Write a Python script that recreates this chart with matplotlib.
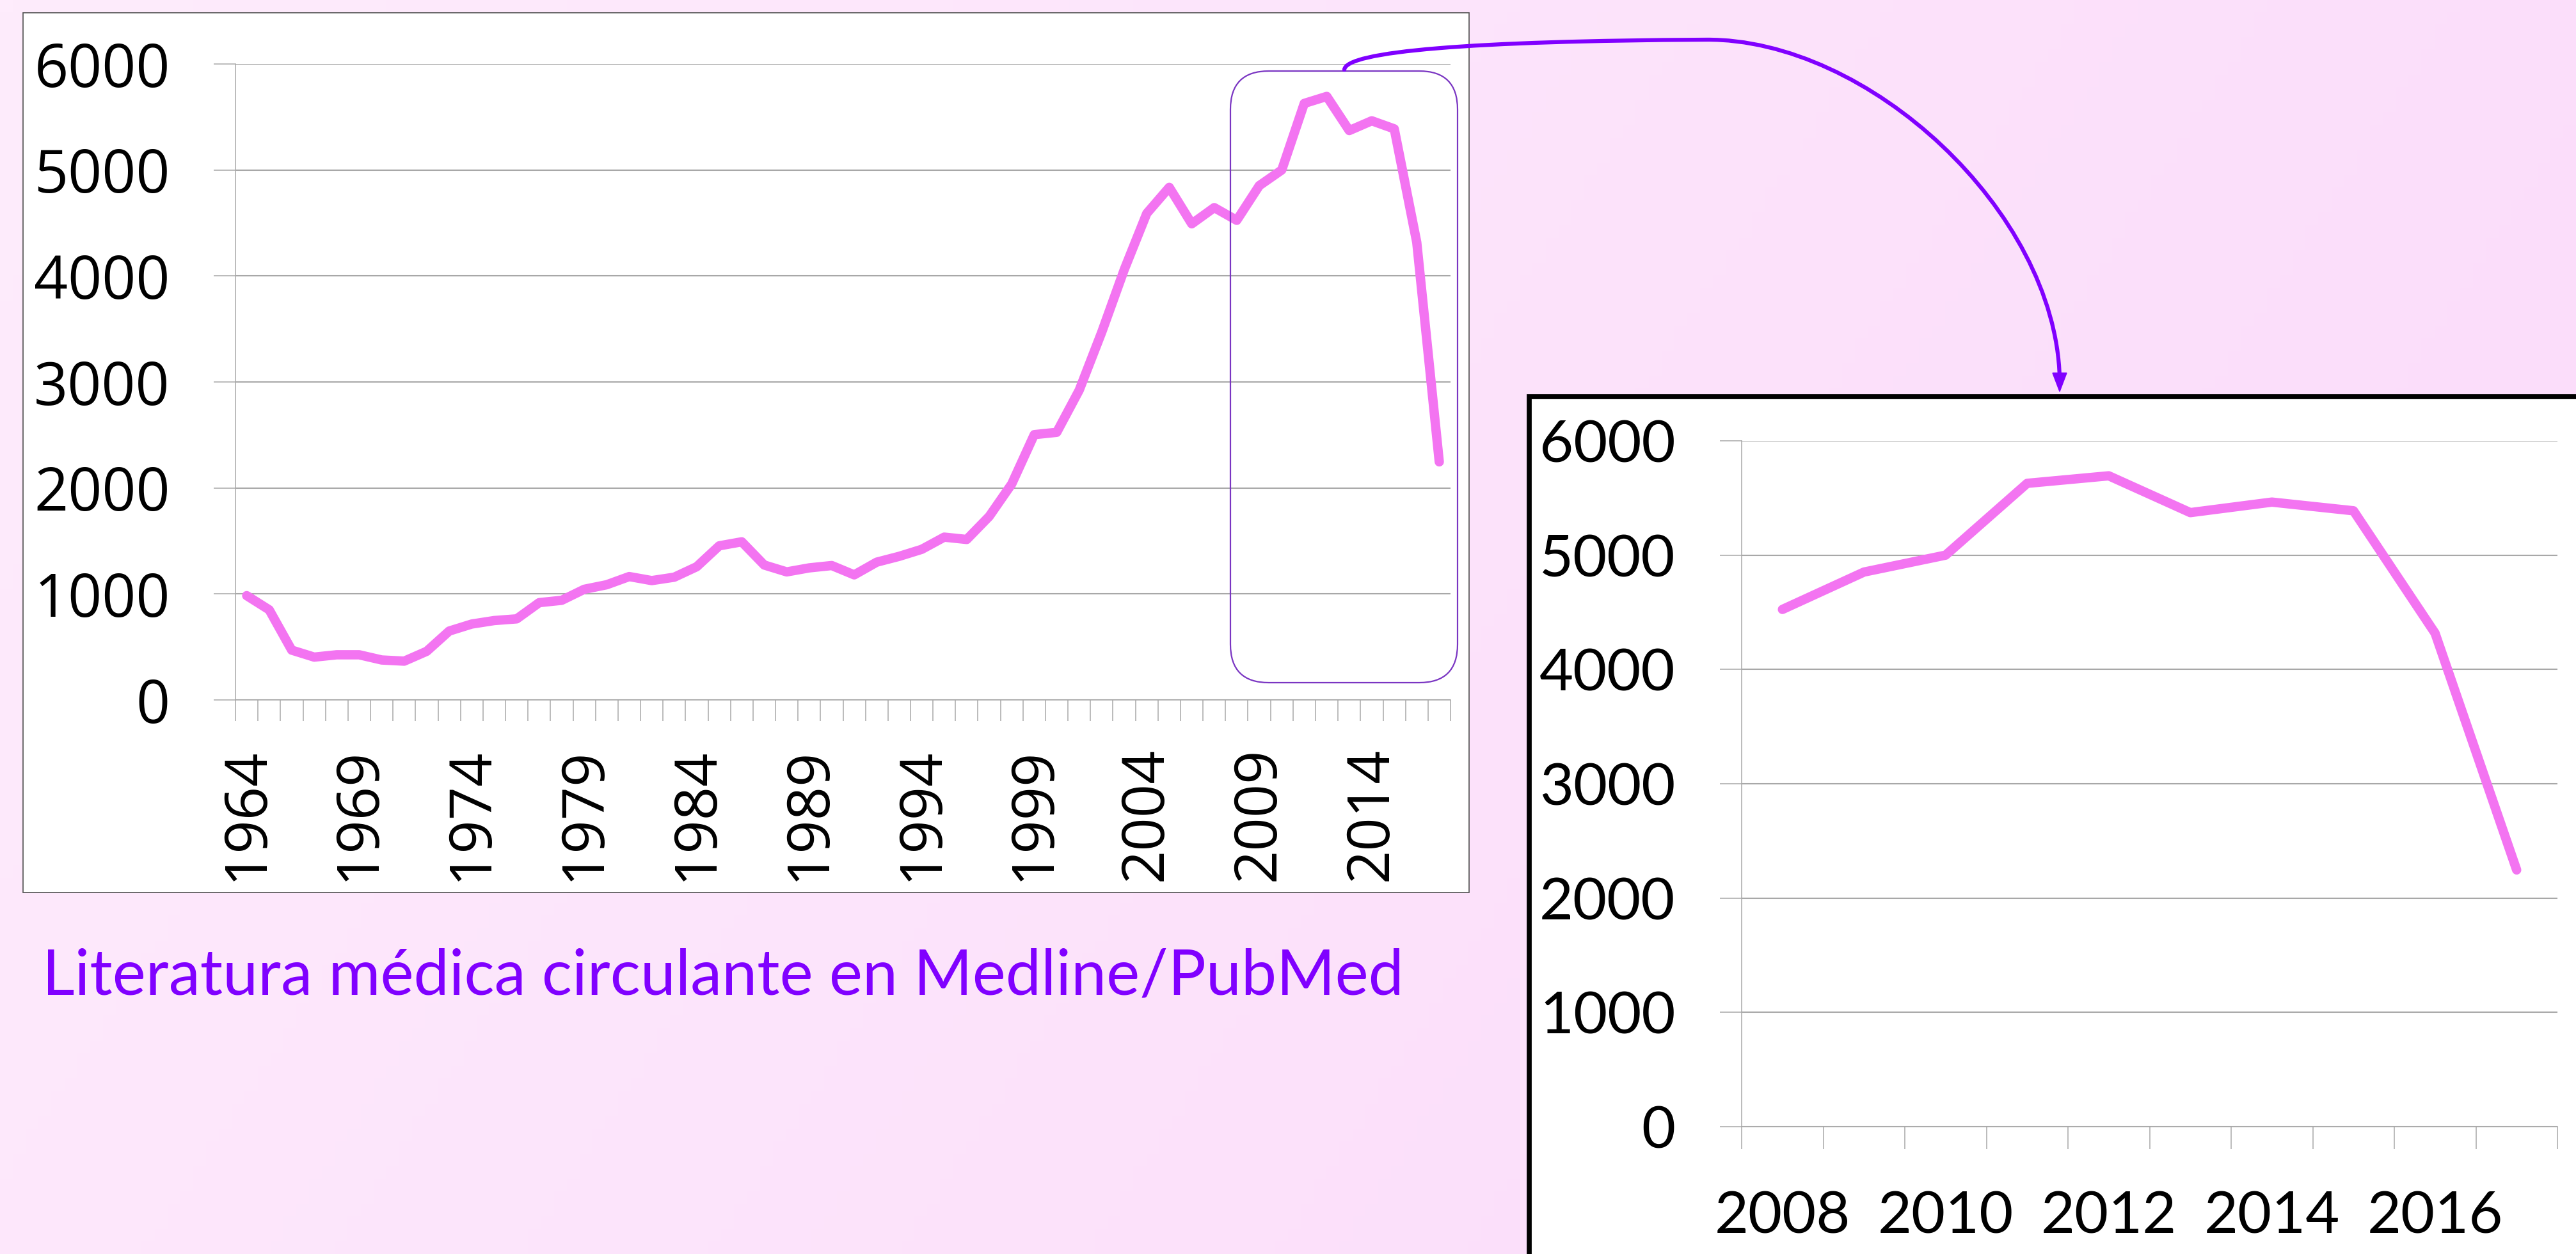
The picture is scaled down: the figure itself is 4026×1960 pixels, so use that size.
import matplotlib
matplotlib.use("Agg")
import matplotlib.pyplot as plt
import numpy as np
from matplotlib.patches import Rectangle, FancyBboxPatch, Polygon, PathPatch
from matplotlib.path import Path

# --- data ---
years = list(range(1964, 2018))
articles = [984, 850, 470, 404, 426, 426, 377, 366, 459, 650,
            716, 749, 765, 918, 940, 1044, 1087, 1164, 1126, 1158,
            1257, 1454, 1492, 1273, 1208, 1246, 1268, 1180, 1300, 1355,
            1421, 1536, 1514, 1732, 2038, 2503, 2525, 2923, 3470, 4060,
            4590, 4836, 4492, 4645, 4525, 4852, 5000, 5628, 5694, 5372,
            5464, 5388, 4317, 2246]
zoom_years = years[44:]      # 2008-2017
zoom_articles = articles[44:]
y_ticks = [0, 1000, 2000, 3000, 4000, 5000, 6000]
title = "Literatura médica circulante en Medline/PubMed"

W, H = 4026, 1960
line_c = "#F374F1"
grid_c = "#A8A8A8"
purple = "#8000FF"


def fig_rect(x0, y0, x1, y1):
    # pixel box (y down) -> figure fraction
    return [x0 / W, 1 - y1 / H, (x1 - x0) / W, (y1 - y0) / H]


fig = plt.figure(figsize=(W / 100, H / 100), dpi=100)

# background gradient + white chart frames
bg = fig.add_axes([0, 0, 1, 1], zorder=0)
gx, gy = np.meshgrid(np.linspace(0, 1, 200), np.linspace(0, 1, 100))
t = np.clip(0.8 * gx + 0.25 * gy, 0, 1)[..., None]
c0 = np.array([254, 236, 252]) / 255
c1 = np.array([251, 219, 250]) / 255
bg.imshow(c0 + (c1 - c0) * t, extent=(0, W, H, 0), aspect="auto")
bg.set_xlim(0, W)
bg.set_ylim(H, 0)
bg.axis("off")
bg.add_patch(Rectangle((36, 20), 2260, 1375, facecolor="white",
                       edgecolor="#505050", lw=1.2))
bg.add_patch(Rectangle((2390, 620), 1800, 1500, facecolor="white",
                       edgecolor="black", lw=5.6))

# --- main chart ---
ax = fig.add_axes(fig_rect(368, 100, 2267, 1094), zorder=1)
ax.set_facecolor("none")
x = np.arange(len(years))
ax.plot(x, articles, color=line_c, lw=10.5, solid_joinstyle="round",
        solid_capstyle="round")
ax.set_xlim(-0.5, len(years) - 0.5)
ax.set_ylim(0, 6000)
ax.set_yticks(y_ticks)
ax.yaxis.grid(True, color=grid_c, lw=1.5)
ax.set_axisbelow(True)
ax.set_xticks(x[::5], [str(y) for y in years[::5]], rotation=90)
ax.set_xticks(np.arange(-0.5, len(years), 1), minor=True)
ax.tick_params(axis="y", length=24.5, width=1.1, color=grid_c, pad=49,
               labelsize=67)
ax.tick_params(axis="x", which="major", length=0, pad=53, labelsize=66)
ax.tick_params(axis="x", which="minor", length=24, width=1.1, color=grid_c)
for lab in ax.get_xticklabels() + ax.get_yticklabels():
    lab.set_family("Open Sans")
for s in ["top", "right"]:
    ax.spines[s].set_visible(False)
for s in ["left", "bottom"]:
    ax.spines[s].set_color(grid_c)
    ax.spines[s].set_linewidth(1.1)

# --- zoomed chart ---
az = fig.add_axes(fig_rect(2722, 689, 3997, 1761), zorder=1)
az.set_facecolor("none")
xz = np.arange(len(zoom_years))
az.plot(xz, zoom_articles, color=line_c, lw=10.5, solid_joinstyle="round",
        solid_capstyle="round")
az.set_xlim(-0.5, len(zoom_years) - 0.5)
az.set_ylim(0, 6000)
az.set_yticks(y_ticks)
az.yaxis.grid(True, color=grid_c, lw=1.5)
az.set_axisbelow(True)
az.set_xticks(xz[::2], [str(y) for y in zoom_years[::2]])
az.set_xticks(np.arange(-0.5, len(zoom_years), 1), minor=True)
az.tick_params(axis="y", length=24.5, width=1.1, color=grid_c, pad=50,
               labelsize=66)
az.tick_params(axis="x", which="major", length=0, pad=72, labelsize=66)
az.tick_params(axis="x", which="minor", length=25, width=1.1, color=grid_c)
for lab in az.get_xticklabels() + az.get_yticklabels():
    lab.set_family("Lato")
for s in ["top", "right"]:
    az.spines[s].set_visible(False)
for s in ["left", "bottom"]:
    az.spines[s].set_color(grid_c)
    az.spines[s].set_linewidth(1.1)

# --- overlay: highlight box, arrow, caption ---
fg = fig.add_axes([0, 0, 1, 1], zorder=5)
fg.set_facecolor("none")
fg.set_xlim(0, W)
fg.set_ylim(H, 0)
fg.axis("off")
fg.add_patch(FancyBboxPatch((1923, 111), 355, 956,
                            boxstyle="round,pad=0,rounding_size=60",
                            facecolor="none", edgecolor="#7A35C2", lw=1.6))
verts = [(2101, 109), (2103, 80), (2300, 64), (2666, 62),
         (2920, 60), (3212, 330), (3219, 590)]
codes = [Path.MOVETO] + [Path.CURVE4] * 6
fg.add_patch(PathPatch(Path(verts, codes), facecolor="none",
                       edgecolor=purple, lw=4.5, capstyle="round"))
fg.add_patch(Polygon([(3219, 612), (3208, 583), (3230, 583)],
                     closed=True, facecolor=purple, edgecolor=purple, lw=1))
fg.text(66, 1554, title, fontsize=71, family="Lato", color=purple,
        va="baseline", ha="left")

fig.savefig("out.png", dpi=100)
